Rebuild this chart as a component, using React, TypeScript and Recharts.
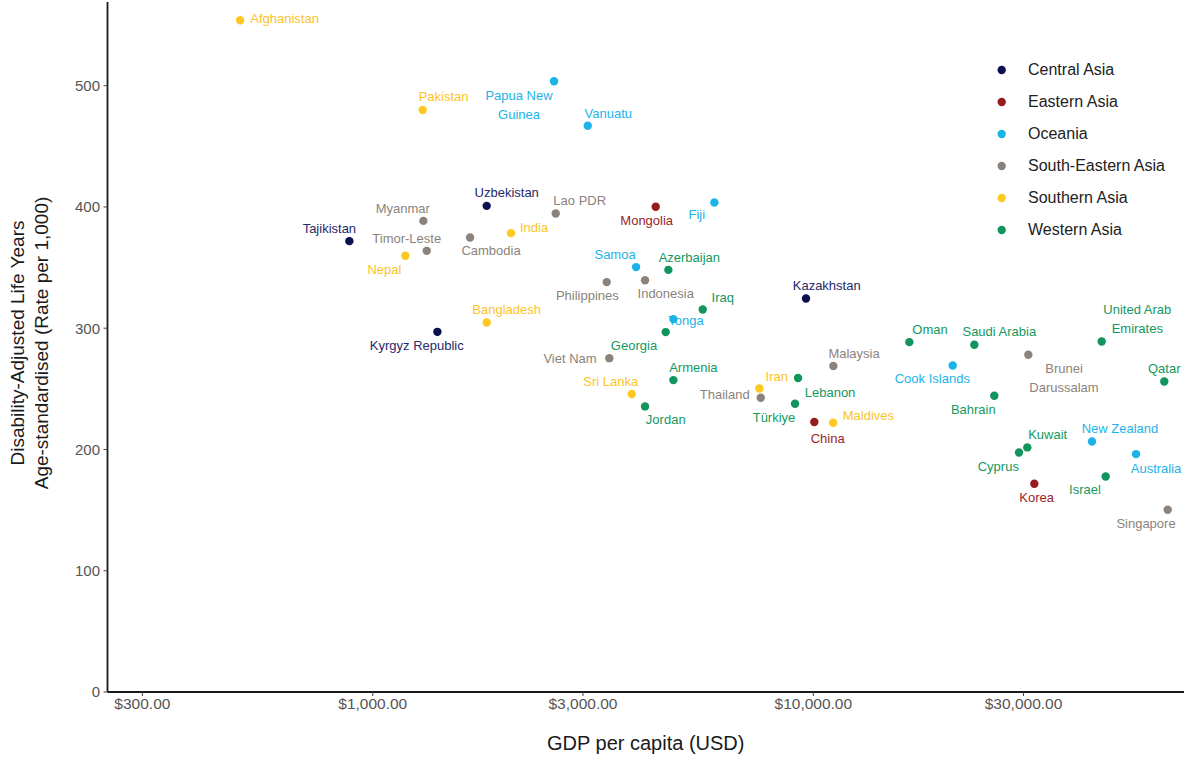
import React from 'react';
import { ScatterChart, Scatter, XAxis, YAxis, Legend, Label } from 'recharts';

type Pt = { country: string; gdp: number; daly: number };

const centralAsia: Pt[] = [
  { country: 'Kazakhstan', gdp: 9625, daly: 324.5 },
  { country: 'Kyrgyz Republic', gdp: 1402, daly: 297 },
  { country: 'Tajikistan', gdp: 885, daly: 371.8 },
  { country: 'Uzbekistan', gdp: 1814, daly: 400.9 },
];
const easternAsia: Pt[] = [
  { country: 'China', gdp: 10053, daly: 222.6 },
  { country: 'Korea', gdp: 31740, daly: 171.7 },
  { country: 'Mongolia', gdp: 4388, daly: 400.1 },
];
const oceania: Pt[] = [
  { country: 'Australia', gdp: 54010, daly: 196.2 },
  { country: 'Cook Islands', gdp: 20720, daly: 269.3 },
  { country: 'Fiji', gdp: 5962, daly: 403.6 },
  { country: 'New Zealand', gdp: 42910, daly: 206.6 },
  { country: 'Papua New Guinea', gdp: 2579, daly: 503.7 },
  { country: 'Samoa', gdp: 3960, daly: 350.4 },
  { country: 'Tonga', gdp: 4812, daly: 307.5 },
  { country: 'Vanuatu', gdp: 3076, daly: 466.9 },
];
const southEasternAsia: Pt[] = [
  { country: 'Brunei Darussalam', gdp: 30760, daly: 278.1 },
  { country: 'Cambodia', gdp: 1663, daly: 374.8 },
  { country: 'Indonesia', gdp: 4150, daly: 339.6 },
  { country: 'Lao PDR', gdp: 2602, daly: 394.6 },
  { country: 'Malaysia', gdp: 11104, daly: 268.8 },
  { country: 'Myanmar', gdp: 1303, daly: 388.5 },
  { country: 'Philippines', gdp: 3397, daly: 338 },
  { country: 'Singapore', gdp: 63740, daly: 150.3 },
  { country: 'Thailand', gdp: 7597, daly: 242.6 },
  { country: 'Timor-Leste', gdp: 1326, daly: 363.8 },
  { country: 'Viet Nam', gdp: 3443, daly: 275.3 },
];
const southernAsia: Pt[] = [
  { country: 'Afghanistan', gdp: 500, daly: 554 },
  { country: 'Bangladesh', gdp: 1814, daly: 304.7 },
  { country: 'India', gdp: 2060, daly: 378.4 },
  { country: 'Iran', gdp: 7543, daly: 250.3 },
  { country: 'Maldives', gdp: 11090, daly: 222 },
  { country: 'Nepal', gdp: 1186, daly: 359.7 },
  { country: 'Pakistan', gdp: 1298, daly: 480 },
  { country: 'Sri Lanka', gdp: 3871, daly: 245.7 },
];
const westernAsia: Pt[] = [
  { country: 'Armenia', gdp: 4812, daly: 257.2 },
  { country: 'Azerbaijan', gdp: 4688, daly: 348.1 },
  { country: 'Bahrain', gdp: 25750, daly: 244.3 },
  { country: 'Cyprus', gdp: 29300, daly: 197.5 },
  { country: 'Georgia', gdp: 4623, daly: 296.8 },
  { country: 'Iraq', gdp: 5611, daly: 315.4 },
  { country: 'Israel', gdp: 46090, daly: 177.7 },
  { country: 'Jordan', gdp: 4150, daly: 235.5 },
  { country: 'Kuwait', gdp: 30600, daly: 201.7 },
  { country: 'Lebanon', gdp: 9233, daly: 258.9 },
  { country: 'Oman', gdp: 16518, daly: 288.5 },
  { country: 'Qatar', gdp: 62600, daly: 256.1 },
  { country: 'Saudi Arabia', gdp: 23200, daly: 286.3 },
  { country: 'Türkiye', gdp: 9088, daly: 237.7 },
  { country: 'United Arab Emirates', gdp: 45140, daly: 289 },
];

const xTicks = [300, 1000, 3000, 10000, 30000];
const yTicks = [0, 100, 200, 300, 400, 500];

const regions = [
  { name: 'Central Asia', color: '#0c1050', text: '#26296a', data: centralAsia },
  { name: 'Eastern Asia', color: '#961c1f', text: '#9a2428', data: easternAsia },
  { name: 'Oceania', color: '#1cb3e8', text: '#1cb3e8', data: oceania },
  { name: 'South-Eastern Asia', color: '#8b837b', text: '#8b837b', data: southEasternAsia },
  { name: 'Southern Asia', color: '#ffc722', text: '#fcc41f', data: southernAsia },
  { name: 'Western Asia', color: '#11955d', text: '#14985f', data: westernAsia },
];

// label layout: offset of label text centre from the point (px), and optional line breaks
const labelPos: Record<string, [number, number]> = {
  Afghanistan: [44.5, -2], Pakistan: [21, -13], 'Papua New Guinea': [-35, 14.5], Vanuatu: [20.6, -12.7],
  Uzbekistan: [20, -13], 'Lao PDR': [24, -13], Mongolia: [-9, 14], Fiji: [-17.6, 12.3],
  Myanmar: [-20.6, -12.3], Tajikistan: [-20, -12.6], 'Timor-Leste': [-20, -12.3], Cambodia: [21, 13.3],
  India: [23, -5.6], Nepal: [-21, 14], Samoa: [-21, -12.6], Azerbaijan: [21, -12.7],
  Philippines: [-19.4, 13.7], Indonesia: [20.7, 13.7], Iraq: [20, -12.4], Tonga: [12.7, 1.7],
  Georgia: [-31.7, 13.7], Bangladesh: [20, -12.7], 'Kyrgyz Republic': [-20.6, 14], 'Viet Nam': [-39.3, 0],
  Armenia: [20, -13], 'Sri Lanka': [-21, -12.6], Jordan: [20.7, 13.3], Thailand: [-36, -3],
  Kazakhstan: [20.7, -12.7], Malaysia: [20.7, -13], Iran: [17.4, -12], Lebanon: [32, 14.4],
  'Türkiye': [-21, 13.3], China: [13.4, 16], Maldives: [35.3, -7.7], Oman: [20.7, -12.3],
  'Saudi Arabia': [25, -13], 'Cook Islands': [-20.4, 13.3], 'Brunei Darussalam': [35.7, 13.7],
  'United Arab Emirates': [35.6, -31.7], Qatar: [0, -13.4], Bahrain: [-21, 13.3], Kuwait: [20.4, -13.4],
  Cyprus: [-20.7, 14], 'New Zealand': [28, -13.4], Australia: [20, 14], Israel: [-20.7, 12.6],
  Korea: [2.4, 13.3], Singapore: [-21.7, 14],
};
const wrapped: Record<string, string[]> = {
  'Papua New Guinea': ['Papua New', 'Guinea'],
  'Brunei Darussalam': ['Brunei', 'Darussalam'],
  'United Arab Emirates': ['United Arab', 'Emirates'],
};

const FONT = '"Liberation Sans", Arial, Helvetica, sans-serif';

const makeShape = (color: string, textColor: string) => (props: any) => {
  const { cx, cy, payload } = props;
  if (cx == null || cy == null) return <g />;
  const name: string = payload.country;
  const [dx, dy] = labelPos[name] || [0, -13];
  const lines = wrapped[name] || [name];
  return (
    <g>
      <circle cx={cx} cy={cy} r={4.2} fill={color} />
      <text
        x={cx + dx}
        y={cy + dy + 4.5}
        textAnchor="middle"
        fontSize={13}
        fontFamily={FONT}
        fill={textColor}
      >
        {lines.map((l, i) => (
          <tspan key={i} x={cx + dx} dy={i === 0 ? 0 : 19}>
            {l}
          </tspan>
        ))}
      </text>
    </g>
  );
};

const fmtMoney = (v: number) =>
  '$' + v.toLocaleString('en-US', { minimumFractionDigits: 2, maximumFractionDigits: 2 });

const renderLegend = () => (
  <div style={{ fontFamily: FONT }}>
    {regions.map((r) => (
      <div key={r.name} style={{ display: 'flex', alignItems: 'center', height: 32 }}>
        <svg width={38} height={32} style={{ display: 'block' }}>
          <circle cx={11.7} cy={16} r={4.2} fill={r.color} />
        </svg>
        <span style={{ fontSize: 16, color: '#222', whiteSpace: 'nowrap' }}>{r.name}</span>
      </div>
    ))}
  </div>
);

const YTitle = (props: any) => {
  const vb = props.viewBox || {};
  const cy = (vb.y ?? 2) + (vb.height ?? 690) / 2 - 4;
  const style = { fontSize: 19, fontFamily: FONT, fill: '#1a1a1a' } as any;
  return (
    <g>
      <text x={24} y={cy} transform={`rotate(-90 24 ${cy})`} textAnchor="middle" style={style}>
        Disability-Adjusted Life Years
      </text>
      <text x={48} y={cy} transform={`rotate(-90 48 ${cy})`} textAnchor="middle" style={style}>
        Age-standardised (Rate per 1,000)
      </text>
    </g>
  );
};

export default function App() {
  return (
    <div style={{ position: 'absolute', left: 0, top: 0, background: '#fff' }}>
      <ScatterChart width={1184} height={757} margin={{ top: 2, right: 0, bottom: 0, left: 0 }}>
        <XAxis
          type="number"
          dataKey="gdp"
          scale="log"
          domain={[250, 69400]}
          allowDataOverflow
          ticks={xTicks}
          tickFormatter={fmtMoney}
          height={65}
          tickSize={4}
          tickMargin={2}
          axisLine={{ stroke: '#1a1a1a', strokeWidth: 1.8 }}
          tickLine={{ stroke: '#444' }}
          tick={{ fill: '#555', fontSize: 15.5, fontFamily: FONT }}
          interval={0}
        >
          <Label
            value="GDP per capita (USD)"
            position="insideBottom"
            offset={7}
            style={{ fontSize: 20, fontFamily: FONT, fill: '#1a1a1a' }}
          />
        </XAxis>
        <YAxis
          type="number"
          dataKey="daly"
          domain={[0, 569]}
          allowDataOverflow
          ticks={yTicks}
          width={107.5}
          tickSize={4}
          tickMargin={3.5}
          axisLine={{ stroke: '#1a1a1a', strokeWidth: 1.8 }}
          tickLine={{ stroke: '#444' }}
          tick={{ fill: '#555', fontSize: 15, fontFamily: FONT }}
          interval={0}
        >
          <Label content={<YTitle />} />
        </YAxis>
        <Legend
          layout="vertical"
          align="center"
          verticalAlign="middle"
          content={renderLegend}
          wrapperStyle={{ position: 'absolute', left: 990, top: 54, width: 194 }}
        />
        {regions.map((r) => (
          <Scatter
            key={r.name}
            name={r.name}
            data={r.data}
            fill={r.color}
            shape={makeShape(r.color, r.text)}
            isAnimationActive={false}
          />
        ))}
      </ScatterChart>
    </div>
  );
}
